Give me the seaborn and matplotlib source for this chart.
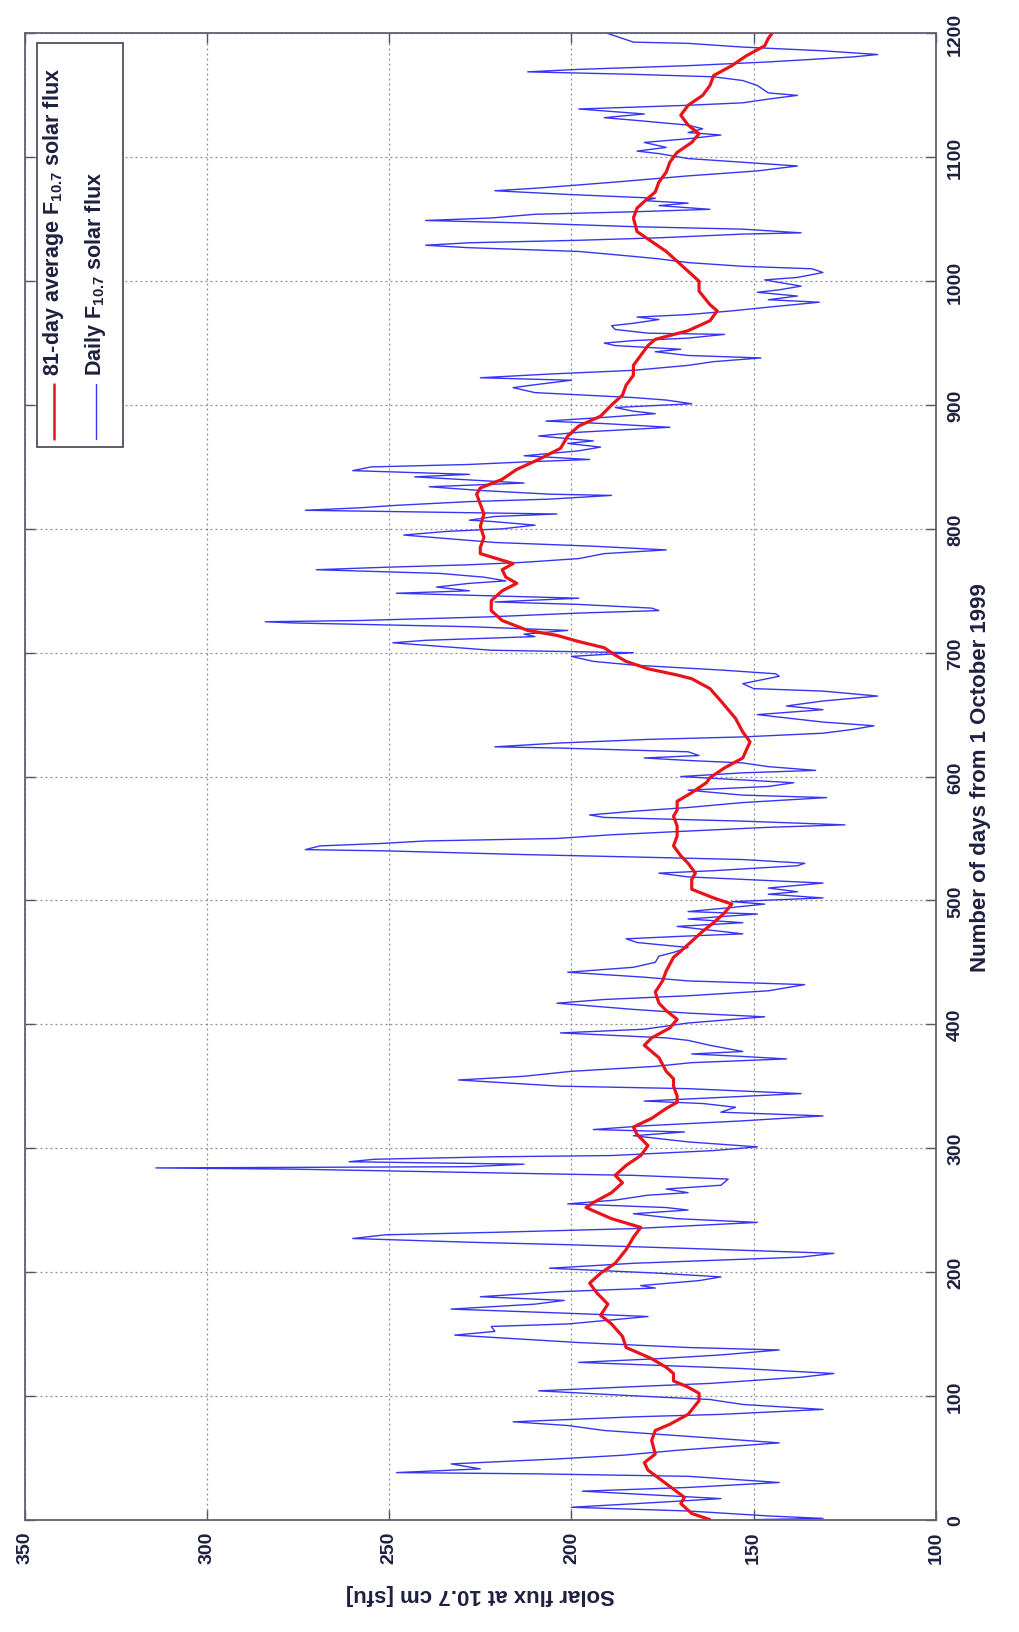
import numpy as np
import pandas as pd
import matplotlib
matplotlib.use("Agg")
import matplotlib.pyplot as plt
from matplotlib.patches import Rectangle
from matplotlib.lines import Line2D
import seaborn as sns

# Daily F10.7 solar flux (day index from 1 Oct 1999, flux in sfu)
daily_days = [
    0, 1, 3, 7, 10, 14, 17, 23, 26, 30, 35, 37, 38, 41, 45, 49, 52, 56, 62, 66, 72, 76, 79, 83, 85, 89, 93, 97,
    100, 104, 107, 110, 115, 118, 122, 127, 130, 133, 137, 139, 143, 149, 152, 156, 158, 164, 166, 170, 174,
    177, 180, 184, 187, 189, 193, 196, 199, 203, 207, 212, 215, 219, 222, 224, 227, 230, 232, 235,
    240, 243, 247, 250, 252, 255, 258, 262, 264, 267, 270, 275, 278, 279, 283, 284, 285, 287, 289, 291, 293,
    294, 298, 301, 305, 310, 313, 315, 318, 322, 326, 329, 333, 336, 338, 344, 348, 350, 355,
    358, 362, 366, 369, 372, 374, 376, 378, 383, 387, 389, 393, 396, 401, 406, 409, 412, 417, 420, 423, 427,
    432, 435, 438, 442, 446, 450, 455, 458, 462, 466, 469, 471, 473,
    479, 482, 485, 489, 491, 494, 497, 499, 502, 505, 507, 510, 514, 517, 519, 522, 524, 528, 530, 533, 535,
    537, 540, 541, 544, 546, 548, 550, 553, 556, 559, 561, 564, 567, 569, 572, 575, 579, 583, 585, 589, 592,
    595, 600, 603, 605, 608, 611, 613, 615, 617, 620, 623, 624, 627, 630, 632, 635, 638, 641, 644, 650, 654,
    657, 661, 665, 669, 671, 675, 681, 683, 686, 690, 693, 697, 700, 702, 708, 710, 713,
    715, 718, 721, 724, 725, 726, 729, 732, 734, 736, 739, 741, 744, 748, 750, 753, 756, 758, 761, 764, 767,
    769, 771, 773, 776, 780, 783, 786, 789, 795, 798, 800, 803, 806, 807, 810, 812, 815, 817, 819, 822, 824,
    827, 828, 831, 834,
    837, 839, 842, 844, 847, 850, 852, 854, 856, 859, 863, 866, 869, 871, 875, 878, 882, 885, 887, 890, 893,
    895, 898, 901, 904, 906, 910, 914, 916, 920, 922, 925, 928, 932, 935, 938, 940, 943, 945, 948, 950, 952,
    954, 957, 958, 961, 964, 966, 969, 971, 973, 976, 979, 983, 985, 988, 991, 993, 996, 999, 1001, 1003,
    1007, 1010, 1012, 1015, 1018, 1020, 1024, 1027, 1029, 1031, 1033, 1035, 1038, 1039, 1042, 1044, 1047,
    1049, 1051, 1054, 1056, 1058, 1061, 1063, 1065, 1067, 1070, 1073,
    1075, 1077, 1080, 1085, 1089, 1093, 1096, 1099, 1103, 1105, 1108, 1112, 1115, 1118, 1120, 1123, 1126,
    1130, 1132, 1135, 1139, 1142, 1144, 1147, 1150, 1152, 1158, 1162, 1165, 1167, 1169, 1171, 1174, 1177,
    1181, 1183, 1186, 1189, 1192, 1193, 1196, 1200,
]
daily_flux = [
    150, 131, 146, 168, 200, 176, 159, 197, 168, 143, 168, 210, 248, 225, 233, 204, 186, 171, 143, 162, 191, 201, 216, 183, 159, 131, 153, 162,
    183, 209, 186, 162, 137, 128, 153, 198, 176, 159, 143, 168, 198, 232, 221, 222, 201, 179, 195, 233, 210,
    202, 225, 204, 177, 181, 165, 159, 176, 206, 183, 137, 128, 168, 201, 228, 260, 251, 221, 183,
    149, 171, 183, 168, 174, 201, 188, 179, 168, 174, 159, 157, 183, 203, 276, 314, 228, 213, 261, 254, 221,
    189, 161, 149, 168, 183, 169, 194, 180, 153, 131, 159, 155, 164, 180, 137, 168, 203, 231,
    213, 200, 177, 167, 141, 153, 167, 153, 162, 168, 174, 203, 180, 168, 147, 168, 183, 204, 191, 168, 146,
    136, 168, 180, 201, 183, 177, 176, 172, 168, 182, 185, 170, 153,
    171, 153, 168, 149, 168, 157, 147, 156, 131, 146, 138, 146, 131, 153, 168, 176, 161, 138, 136, 153, 182,
    213, 251, 273, 269, 252, 240, 204, 189, 168, 146, 125, 153, 191, 195, 183, 168, 153, 130, 153, 168, 146,
    139, 170, 153, 133, 146, 153, 168, 180, 165, 168, 203, 221, 204, 179, 153, 131, 123, 117, 131, 149, 131,
    141, 131, 116, 131, 150, 153, 143, 144, 159, 183, 194, 200, 183, 222, 249, 240, 210,
    213, 201, 228, 276, 284, 258, 222, 198, 176, 178, 198, 221, 198, 248, 228, 237, 228, 218, 224, 236, 270,
    251, 228, 213, 198, 191, 174, 194, 221, 246, 234, 219, 210, 222, 228, 221, 204, 273, 258, 248, 228, 206,
    189, 206, 225, 239,
    213, 225, 243, 228, 260, 255, 228, 213, 195, 213, 198, 192, 201, 194, 209, 198, 173, 191, 207, 191, 177,
    183, 188, 167, 174, 183, 210, 216, 211, 200, 225, 206, 183, 168, 161, 148, 168, 177, 170, 188, 191, 183,
    168, 158, 179, 188, 189, 183, 176, 182, 168, 156, 146, 132, 146, 138, 149, 143, 137, 143, 147, 138,
    131, 134, 153, 168, 176, 183, 198, 228, 240, 228, 198, 176, 153, 137, 153, 183, 213,
    240, 222, 210, 183, 162, 176, 168, 180, 177, 201, 221,
    210, 201, 188, 168, 149, 138, 153, 168, 176, 182, 174, 180, 168, 159, 168, 164, 168,
    183, 191, 180, 198, 168, 153, 146, 138, 146, 149, 153, 161, 183, 212, 198, 168, 146,
    123, 116, 131, 153, 168, 183, 186, 190,
]

# 81-day running mean of F10.7
avg_days = [
    0, 5, 13, 18, 29, 40, 46, 53, 64, 72, 77, 85, 96, 102, 107, 112, 118, 123, 130, 139, 148, 158, 165, 174,
    183, 191, 199, 207, 218, 228, 236, 243, 252, 256, 264, 272, 278, 286, 294, 302, 311, 317, 324, 332, 337,
    342, 350, 356, 362, 373, 383, 389, 397, 404, 411, 417, 426, 435, 443, 454, 459, 467, 475, 482, 490, 497,
    502, 509, 517, 522, 530, 536, 544, 552, 560, 568, 573, 580, 587, 595, 599, 607, 615, 628, 636, 647, 661,
    671, 679, 682, 687, 693, 698, 704, 709, 714, 718, 726, 734, 742, 750, 756, 761, 767, 772, 780, 785, 793,
    802, 812, 820, 828, 833, 840, 848, 856, 865, 875, 883, 891, 900, 908, 916, 924, 932, 940, 948, 953, 960,
    968, 976, 981, 992, 1000, 1008, 1016, 1024, 1032, 1040, 1051, 1059, 1067, 1072, 1080, 1088, 1096, 1104,
    1112, 1119, 1126, 1134, 1142, 1150, 1158, 1166, 1174, 1182, 1190, 1196, 1200,
]
avg_flux = [
    162, 167, 170, 169, 174, 179, 180, 177, 178, 177, 173, 168, 165, 165, 168, 172, 172, 174, 178, 185, 186, 189, 192, 190,
    193, 195, 192, 188, 185, 183, 181, 189, 196, 194, 189, 186, 188, 185, 181, 179, 182, 183, 178, 174, 171,
    171, 172, 172, 174, 176, 180, 178, 173, 171, 174, 176, 177, 175, 174, 172, 170, 167, 164, 161, 158, 156,
    161, 167, 167, 166, 168, 170, 172, 171, 171, 172, 171, 171, 167, 163, 162, 158, 153, 151, 153, 155, 159,
    162, 167, 171, 179, 185, 188, 191, 198, 204, 212, 219, 222, 222, 219, 215, 218, 219, 216, 225, 225, 224,
    225, 224, 225, 226, 225, 219, 215, 209, 203, 201, 198, 192, 189, 186, 185, 183, 183, 181, 179, 177, 168,
    162, 160, 162, 165, 165, 168, 171, 174, 178, 182, 183, 182, 179, 177, 176, 174, 173, 171,
    167, 165, 168, 170, 168, 164, 162, 161, 156, 152, 147, 146, 145,
]

flux_ticks = [100, 150, 200, 250, 300, 350]
day_ticks = [0, 100, 200, 300, 400, 500, 600, 700, 800, 900, 1000, 1100, 1200]

label_avg = r"81-day average F$_{\mathbf{10.7}}$ solar flux"
label_daily = r"Daily F$_{\mathbf{10.7}}$ solar flux"
xlabel_text = "Solar flux at 10.7 cm [sfu]"
ylabel_text = "Number of days from 1 October 1999"

sns.set_style("white")
plt.rcParams["font.family"] = ["Liberation Sans", "DejaVu Sans"]
plt.rcParams["font.weight"] = "bold"
plt.rcParams["mathtext.fontset"] = "custom"
plt.rcParams["mathtext.rm"] = "Liberation Sans:bold"
plt.rcParams["mathtext.bf"] = "Liberation Sans:bold"
plt.rcParams["mathtext.default"] = "bf"

TEXT = "#1e2040"
BLUE = "#3535f2"
RED = "#e8141c"

daily = pd.DataFrame({"day": daily_days, "flux": daily_flux})
avg = pd.DataFrame({"day": avg_days, "flux": avg_flux})

fig = plt.figure(figsize=(10.19, 16.33), dpi=100)
ax = fig.add_axes([0.0242, 0.0688, 0.8943, 0.9101])

# The time axis runs vertically, flux horizontally (reversed)
sns.lineplot(data=daily, x="flux", y="day", orient="y", sort=False, estimator=None,
             color=BLUE, linewidth=1.0, ax=ax)
sns.lineplot(data=avg, x="flux", y="day", orient="y", sort=False, estimator=None,
             color=RED, linewidth=2.3, ax=ax)

ax.set_xlim(350, 100)
ax.set_ylim(0, 1200)
ax.set_xticks(flux_ticks)
ax.set_yticks(day_ticks)
ax.set_xticklabels([str(t) for t in flux_ticks], rotation=90, ha="center", va="top",
                   fontsize=14, fontweight="bold", color=TEXT)
ax.yaxis.tick_right()
ax.yaxis.set_label_position("right")
ax.set_yticklabels([str(t) for t in day_ticks], rotation=90, ha="left", va="center",
                   fontsize=14, fontweight="bold", color=TEXT)
ax.tick_params(axis="both", direction="in", length=7, width=1.0, color="#555566",
               top=True, bottom=True, left=True, right=True, pad=8)
ax.tick_params(axis="y", labelleft=False, labelright=True)

ax.set_xlabel(xlabel_text, rotation=180, fontsize=16, fontweight="bold", color=TEXT, labelpad=14)
ax.set_ylabel(ylabel_text, rotation=90, fontsize=16, fontweight="bold", color=TEXT, labelpad=12)
ax.yaxis.label.set_va("center")

ax.grid(True, linestyle=(0, (1.5, 2.5)), color="#8a8a8a", linewidth=0.9)
for s in ax.spines.values():
    s.set_color("#606070")
    s.set_linewidth(1.3)

# Legend box drawn with rotated entries
ax.add_patch(Rectangle((0.013, 0.722), 0.095, 0.2715, transform=ax.transAxes,
                       facecolor="white", edgecolor="#505060", linewidth=1.3, zorder=5))
ax.add_line(Line2D([0.032, 0.032], [0.727, 0.764], transform=ax.transAxes,
                   color=RED, linewidth=1.8, zorder=6))
ax.add_line(Line2D([0.078, 0.078], [0.727, 0.764], transform=ax.transAxes,
                   color=BLUE, linewidth=1.0, zorder=6))
ax.text(0.032, 0.770, label_avg, transform=ax.transAxes, rotation=90, ha="center", va="bottom",
        fontsize=15.5, fontweight="bold", color=TEXT, zorder=6)
ax.text(0.078, 0.770, label_daily, transform=ax.transAxes, rotation=90, ha="center", va="bottom",
        fontsize=15.5, fontweight="bold", color=TEXT, zorder=6)

fig.savefig("out.png", dpi=100, facecolor="white")
